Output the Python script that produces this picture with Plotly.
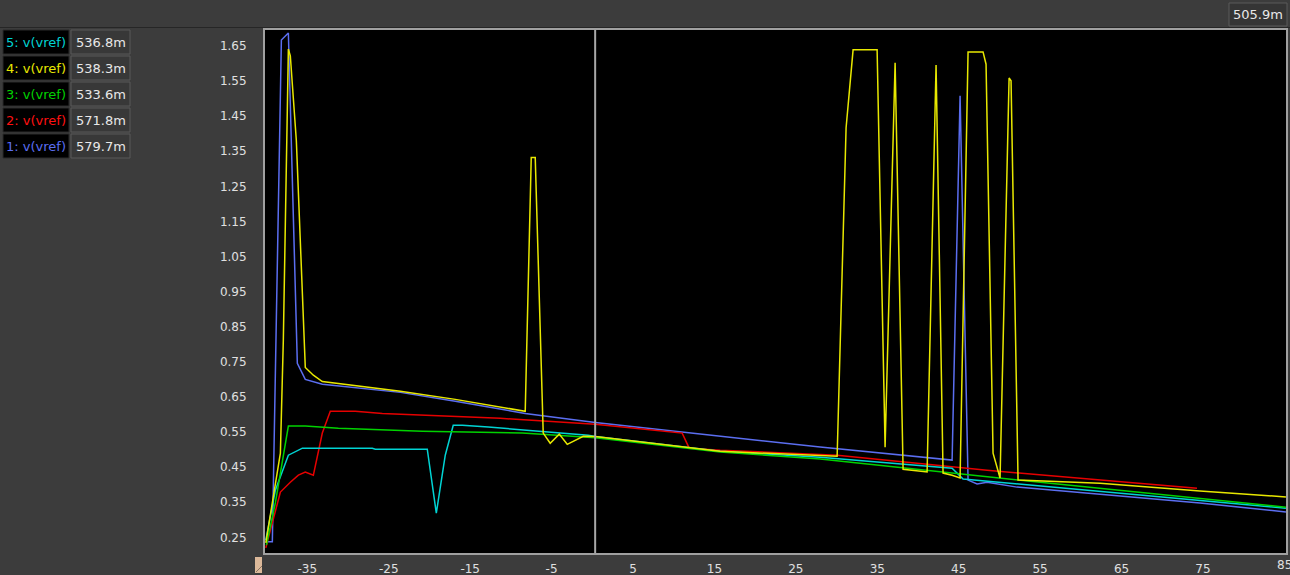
import plotly.graph_objects as go

# trace data (time, volts)
t_1 = [-40.1, -39.3, -38.19, -37.33, -36.23, -35.25, -33.16, -23.58, -16.83, -8.24, 0.36,
       15.7, 27.98, 44.19, 45.17, 46.15, 47.26, 48.48, 52.17, 62.36, 74.63, 85.19]
v_1 = [0.237, 0.237, 1.667, 1.687, 0.746, 0.700, 0.686, 0.663, 0.638, 0.603, 0.577,
       0.538, 0.507, 0.470, 1.508, 0.413, 0.402, 0.407, 0.393, 0.373, 0.348, 0.322]

t_2 = [-40.1, -38.31, -37.09, -36.1, -35.25, -34.26, -33.16, -32.18, -29.11, -25.79,
       -11.3, 0.36, 11.04, 11.9, 15.7, 30.07, 48.48, 74.27]
v_2 = [0.22, 0.379, 0.407, 0.427, 0.436, 0.427, 0.547, 0.609, 0.609, 0.603,
       0.589, 0.572, 0.547, 0.504, 0.498, 0.484, 0.441, 0.39]

t_3 = [-40.03, -38.93, -37.33, -35.25, -31.19, -20.88, -8.6, 0.36, 15.7, 27.98, 52.3, 85.19]
v_3 = [0.228, 0.348, 0.567, 0.567, 0.561, 0.552, 0.547, 0.534, 0.493, 0.473, 0.413, 0.336]

t_4 = [-40.1, -38.31, -37.95, -37.33, -37.09, -36.35, -35.25, -34.26, -33.16, -23.58,
       -16.83, -8.24, -7.5, -7.01, -6.03, -5.17, -4.06, -3.08, -1.11, 0.36,
       15.7, 30.07, 31.17, 32.03, 34.98, 35.96, 37.19, 38.17, 41.12, 42.22,
       43.08, 44.19, 45.17, 46.15, 47.99, 48.36, 49.22, 50.08, 51.19, 51.43,
       52.29, 62.36, 74.63, 85.19]
v_4 = [0.234, 0.49, 0.811, 1.641, 1.622, 1.38, 0.734, 0.712, 0.694, 0.666,
       0.643, 0.609, 1.332, 1.332, 0.547, 0.518, 0.544, 0.515, 0.538, 0.537,
       0.495, 0.481, 1.417, 1.639, 1.639, 0.507, 1.602, 0.444, 0.436, 1.596,
       0.433, 0.427, 0.419, 1.633, 1.633, 1.598, 0.49, 0.419, 1.559, 1.551,
       0.413, 0.404, 0.382, 0.365]

t_5 = [-40.1, -38.93, -37.33, -35.61, -27.02, -26.65, -20.27, -19.16, -18.06, -17.08,
       -15.97, -12.78, -0.5, 0.36, 15.7, 27.98, 44.19, 45.54, 85.19]
v_5 = [0.242, 0.384, 0.484, 0.504, 0.504, 0.501, 0.501, 0.319, 0.484, 0.569,
       0.569, 0.564, 0.541, 0.537, 0.495, 0.478, 0.447, 0.416, 0.333]

trace_names = ["5: v(vref)", "4: v(vref)", "3: v(vref)", "2: v(vref)", "1: v(vref)"]
cursor_values = ["536.8m", "538.3m", "533.6m", "571.8m", "579.7m"]
pointer_value = "505.9m"
cursor_t = 0.35

x_ticks = [-35, -25, -15, -5, 5, 15, 25, 35, 45, 55, 65, 75]
x_last_tick = 85
y_ticks = [0.25, 0.35, 0.45, 0.55, 0.65, 0.75, 0.85, 0.95, 1.05, 1.15, 1.25, 1.35, 1.45, 1.55, 1.65]

c_blue = "#5b6ef0"
c_red = "#e60000"
c_green = "#00d200"
c_yellow = "#e8e800"
c_cyan = "#00d4d4"
bg = "#3c3c3c"

W, H = 1290, 575
ML, MR, MT, MB = 265, 4, 30, 22


def px(x):
    return (x - ML) / (W - ML - MR)


def py(y):
    return (H - MB - y) / (H - MT - MB)


fig = go.Figure()
for t, v, c in [(t_1, v_1, c_blue), (t_2, v_2, c_red), (t_5, v_5, c_cyan),
                (t_3, v_3, c_green), (t_4, v_4, c_yellow)]:
    fig.add_trace(go.Scatter(x=t, y=v, mode="lines", line=dict(color=c, width=1.5),
                             hoverinfo="skip", showlegend=False))

shapes = []
annotations = []

# cursor line
shapes.append(dict(type="line", xref="x", yref="paper", x0=cursor_t, x1=cursor_t, y0=0, y1=1,
                   line=dict(color="#a8a8a8", width=2)))

# top bar separator
shapes.append(dict(type="line", xref="paper", yref="paper", x0=px(0), x1=px(W),
                   y0=py(27.5), y1=py(27.5), line=dict(color="#262626", width=1)))

# pointer readout box top right
shapes.append(dict(type="rect", xref="paper", yref="paper", x0=px(1229), x1=px(1287),
                   y0=py(26), y1=py(3), fillcolor="#353535", line=dict(color="#5a5a5a", width=1)))
annotations.append(dict(xref="paper", yref="paper", x=px(1258), y=py(14.5), text=pointer_value,
                        xanchor="center", yanchor="middle", showarrow=False,
                        font=dict(family="DejaVu Sans", size=13, color="#e8e8e8")))

# last time tick label, cut by the window edge like the viewer does
annotations.append(dict(xref="x", yref="paper", x=x_last_tick, y=py(565), text=str(x_last_tick),
                        xanchor="center", yanchor="middle", showarrow=False,
                        font=dict(family="DejaVu Sans", size=12, color="#e0e0e0")))

# cursor readout legend
name_colors = [c_cyan, c_yellow, c_green, "#ff1010", c_blue]
for i, (name, val, col) in enumerate(zip(trace_names, cursor_values, name_colors)):
    top = 30 + i * 26
    shapes.append(dict(type="rect", xref="paper", yref="paper", x0=px(3), x1=px(69),
                       y0=py(top + 24), y1=py(top), fillcolor="#000000",
                       line=dict(color="#2a2a2a", width=1)))
    shapes.append(dict(type="rect", xref="paper", yref="paper", x0=px(71), x1=px(130),
                       y0=py(top + 24), y1=py(top), fillcolor="#383838",
                       line=dict(color="#595959", width=1)))
    annotations.append(dict(xref="paper", yref="paper", x=px(36), y=py(top + 12), text=name,
                            xanchor="center", yanchor="middle", showarrow=False,
                            font=dict(family="DejaVu Sans", size=13, color=col)))
    annotations.append(dict(xref="paper", yref="paper", x=px(100.5), y=py(top + 12), text=val,
                            xanchor="center", yanchor="middle", showarrow=False,
                            font=dict(family="DejaVu Sans", size=13, color="#e8e8e8")))

# small marker at the start of the time axis
shapes.append(dict(type="rect", xref="paper", yref="paper", x0=px(255), x1=px(262),
                   y0=py(573), y1=py(557), fillcolor="#dcb99a", line=dict(width=0)))
shapes.append(dict(type="line", xref="paper", yref="paper", x0=px(256), x1=px(262),
                   y0=py(572), y1=py(566), line=dict(color="#8a7360", width=1)))

fig.update_layout(
    width=W, height=H,
    margin=dict(l=ML, r=MR, t=MT, b=MB, autoexpand=False),
    paper_bgcolor=bg, plot_bgcolor="#000000",
    font=dict(family="DejaVu Sans", size=12, color="#e0e0e0"),
    shapes=shapes, annotations=annotations,
    xaxis=dict(range=[-40.2, 85.2], tickvals=x_ticks, ticktext=[str(v) for v in x_ticks],
               showgrid=False, zeroline=False, showline=True, mirror=True, automargin=False,
               linecolor="#a0a0a0", linewidth=2, ticks="", ticklabelstandoff=4,
               tickfont=dict(size=12, color="#e0e0e0")),
    yaxis=dict(range=[0.2053, 1.6955], tickvals=y_ticks, ticktext=["%.2f" % v for v in y_ticks],
               showgrid=False, zeroline=False, showline=True, mirror=True, automargin=False,
               linecolor="#a0a0a0", linewidth=2, ticks="", ticklabelstandoff=14,
               tickfont=dict(size=12, color="#e0e0e0")),
)

fig.write_html("out.html", config={"displayModeBar": False},
               post_script="document.body.style.margin='0';")
